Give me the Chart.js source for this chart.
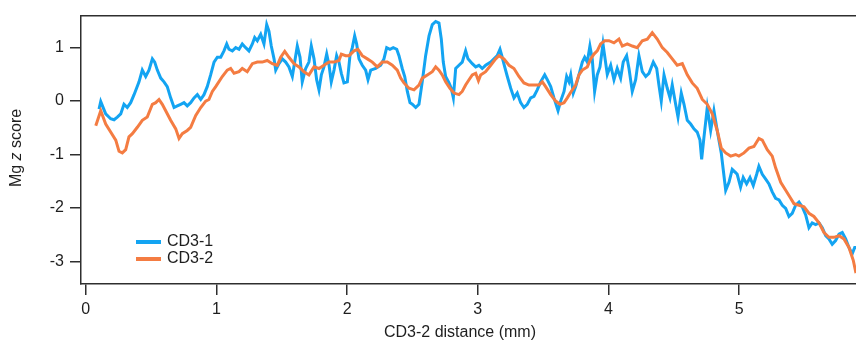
<!DOCTYPE html>
<html>
<head>
<meta charset="utf-8">
<script src="https://cdn.jsdelivr.net/npm/chart.js@4.4.0/dist/chart.umd.min.js"></script>
<style>
  html, body { margin: 0; padding: 0; background: #fff; }
  canvas { display: block; }
</style>
</head>
<body>
<canvas id="myChart" width="856" height="347"></canvas>
<script>
// distance along CD3-2 (mm) and Mg z score
const cd31X = [
  0.102, 0.115, 0.153, 0.191, 0.217, 0.242, 0.268, 0.293, 0.318, 0.344, 0.370, 0.408, 0.433, 0.459, 0.484, 0.510, 0.528, 0.548, 0.574, 0.599,
  0.624, 0.650, 0.676, 0.701, 0.727, 0.752, 0.777, 0.803, 0.829, 0.854, 0.880, 0.905, 0.930, 0.956, 0.982,
  1.007, 1.033, 1.058, 1.079, 1.096, 1.122, 1.148, 1.173, 1.198, 1.224, 1.249, 1.275, 1.293, 1.313, 1.339, 1.364, 1.385, 1.402, 1.420, 1.441,
  1.454, 1.479, 1.504, 1.530, 1.555, 1.581, 1.599, 1.619, 1.640, 1.657, 1.683, 1.708, 1.726, 1.747, 1.767, 1.785, 1.803, 1.823, 1.844, 1.862,
  1.879, 1.900, 1.920, 1.938, 1.956, 1.976,
  2.002, 2.022, 2.040, 2.058, 2.073, 2.091, 2.116, 2.142, 2.160, 2.181, 2.219, 2.257, 2.282, 2.303, 2.328, 2.353, 2.380, 2.397, 2.422, 2.441,
  2.461, 2.481, 2.499, 2.525, 2.550, 2.575, 2.601, 2.627, 2.652, 2.678, 2.703, 2.721, 2.736, 2.754, 2.780, 2.797, 2.813, 2.831, 2.856, 2.881,
  2.907, 2.925, 2.958, 2.984,
  3.009, 3.034, 3.060, 3.099, 3.124, 3.149, 3.170, 3.187, 3.206, 3.226, 3.252, 3.277, 3.302, 3.328, 3.353, 3.379, 3.405, 3.430, 3.455, 3.481,
  3.512, 3.532, 3.558, 3.583, 3.614, 3.634, 3.660, 3.680, 3.698, 3.711, 3.731, 3.749, 3.774, 3.800, 3.818, 3.838, 3.858, 3.876, 3.894, 3.914,
  3.935, 3.958, 3.991,
  4.017, 4.042, 4.067, 4.093, 4.113, 4.139, 4.157, 4.182, 4.208, 4.233, 4.259, 4.285, 4.310, 4.343, 4.369, 4.386, 4.404, 4.425, 4.450, 4.471,
  4.488, 4.514, 4.532, 4.557, 4.578, 4.603, 4.629, 4.654, 4.679, 4.700, 4.713, 4.731, 4.756, 4.782, 4.807, 4.832, 4.863, 4.878, 4.897, 4.922,
  4.947, 4.973,
  4.985, 5.011, 5.031, 5.057, 5.083, 5.108, 5.134, 5.151, 5.177, 5.203, 5.228, 5.253, 5.279, 5.305, 5.330, 5.356, 5.381, 5.406, 5.432, 5.458,
  5.483, 5.509, 5.534, 5.559, 5.585, 5.611, 5.636, 5.662, 5.687, 5.712, 5.738, 5.764, 5.789, 5.815, 5.840, 5.865, 5.884, 5.901
];
const cd31Y = [
  -0.15, -0.01, -0.24, -0.33, -0.35, -0.30, -0.24, -0.06, -0.12, -0.03, 0.12, 0.36, 0.58, 0.46, 0.58, 0.79, 0.73, 0.58, 0.43, 0.36,
  0.27, 0.06, -0.12, -0.09, -0.06, -0.03, -0.09, -0.03, 0.06, 0.12, 0.03, 0.12, 0.27, 0.49, 0.73,
  0.82, 0.82, 0.94, 1.07, 0.97, 0.94, 1.00, 0.97, 1.07, 1.00, 0.94, 1.07, 1.19, 1.13, 1.25, 1.07, 1.43, 1.31, 1.03, 0.79,
  0.58, 0.70, 0.79, 0.73, 0.64, 0.46, 0.73, 1.03, 0.82, 0.36, 0.61, 0.73, 1.03, 0.79, 0.40, 0.21, 0.49, 0.64, 0.88, 0.67,
  0.36, 0.58, 0.85, 0.73, 0.52, 0.34,
  0.36, 0.85, 1.00, 1.22, 1.07, 0.79, 0.67, 0.58, 0.40, 0.58, 0.61, 0.67, 0.79, 1.00, 0.97, 1.00, 0.97, 0.85, 0.61, 0.46,
  0.18, -0.03, -0.06, -0.12, -0.06, 0.36, 0.85, 1.22, 1.43, 1.49, 1.46, 1.16, 0.73, 0.46, 0.34, 0.24, 0.06, 0.61, 0.67, 0.73,
  0.94, 0.79, 0.70, 0.64,
  0.67, 0.61, 0.67, 0.73, 0.79, 0.85, 0.97, 0.82, 0.64, 0.46, 0.24, 0.06, 0.15, -0.03, -0.12, -0.06, 0.06, 0.09, 0.21, 0.36,
  0.49, 0.40, 0.27, 0.06, -0.18, 0.00, 0.18, 0.46, 0.36, 0.49, 0.15, 0.27, 0.49, 0.73, 0.82, 0.73, 1.03, 0.79, 0.18, 0.49,
  0.64, 1.07, 0.50,
  0.67, 0.40, 0.61, 0.43, 0.73, 0.85, 0.61, 0.18, 0.40, 0.85, 0.55, 0.46, 0.52, 0.73, 0.61, 0.30, 0.00, 0.49, 0.24, 0.06,
  0.30, -0.06, -0.30, 0.15, -0.06, -0.36, -0.43, -0.52, -0.58, -0.73, -1.09, -0.67, -0.12, -0.55, -0.18, -0.55, -0.97, -1.28, -1.67, -1.52,
  -1.28, -1.34,
  -1.37, -1.61, -1.43, -1.55, -1.43, -1.58, -1.37, -1.22, -1.37, -1.46, -1.55, -1.70, -1.82, -1.85, -1.95, -2.01, -2.16, -2.10, -1.95, -1.89,
  -1.98, -2.13, -2.37, -2.28, -2.31, -2.28, -2.37, -2.52, -2.58, -2.68, -2.61, -2.49, -2.46, -2.58, -2.74, -2.86, -2.74, -2.74
];

const cd32X = [
  0.077, 0.115, 0.153, 0.191, 0.230, 0.255, 0.280, 0.306, 0.331, 0.357, 0.395, 0.433, 0.471, 0.510, 0.536, 0.561, 0.586, 0.612, 0.650, 0.689,
  0.714, 0.739, 0.777, 0.803, 0.842, 0.880, 0.918, 0.943, 0.969, 0.995,
  1.045, 1.083, 1.109, 1.135, 1.173, 1.198, 1.236, 1.275, 1.313, 1.351, 1.389, 1.428, 1.466, 1.492, 1.523, 1.555, 1.594, 1.632, 1.670, 1.708,
  1.747, 1.785, 1.823, 1.862, 1.900, 1.938, 1.956, 1.989,
  2.015, 2.053, 2.083, 2.116, 2.155, 2.193, 2.231, 2.269, 2.308, 2.346, 2.384, 2.410, 2.435, 2.474, 2.512, 2.550, 2.575, 2.614, 2.652, 2.678,
  2.703, 2.728, 2.754, 2.787, 2.818, 2.856, 2.881, 2.907, 2.933, 2.958, 2.984,
  3.005, 3.022, 3.060, 3.099, 3.137, 3.162, 3.200, 3.239, 3.277, 3.315, 3.353, 3.392, 3.430, 3.468, 3.494, 3.519, 3.558, 3.596, 3.629, 3.660,
  3.685, 3.715, 3.749, 3.774, 3.800, 3.838, 3.864, 3.889, 3.914, 3.940, 3.971,
  4.004, 4.042, 4.080, 4.106, 4.144, 4.182, 4.220, 4.259, 4.297, 4.335, 4.373, 4.412, 4.450, 4.488, 4.526, 4.565, 4.603, 4.641, 4.679, 4.718,
  4.756, 4.794, 4.832, 4.863, 4.897, 4.935, 4.973,
  4.998, 5.037, 5.075, 5.113, 5.151, 5.177, 5.215, 5.253, 5.279, 5.318, 5.356, 5.394, 5.419, 5.458, 5.496, 5.534, 5.572, 5.611, 5.649, 5.687,
  5.725, 5.764, 5.802, 5.840, 5.873, 5.894
];
const cd32Y = [
  -0.46, -0.18, -0.43, -0.58, -0.73, -0.94, -0.97, -0.91, -0.67, -0.61, -0.49, -0.36, -0.30, -0.06, -0.03, 0.03, -0.06, -0.18, -0.36, -0.52,
  -0.70, -0.61, -0.55, -0.49, -0.27, -0.12, 0.00, 0.03, 0.18, 0.27,
  0.46, 0.58, 0.61, 0.52, 0.55, 0.61, 0.55, 0.70, 0.73, 0.73, 0.76, 0.70, 0.67, 0.82, 0.93, 0.82, 0.70, 0.64, 0.55, 0.49,
  0.64, 0.61, 0.67, 0.73, 0.73, 0.76, 0.88, 0.85,
  0.85, 0.94, 0.97, 0.85, 0.79, 0.73, 0.64, 0.73, 0.73, 0.67, 0.58, 0.43, 0.34, 0.24, 0.21, 0.30, 0.43, 0.49, 0.55, 0.64,
  0.58, 0.49, 0.36, 0.24, 0.15, 0.12, 0.18, 0.30, 0.40, 0.49, 0.52,
  0.38, 0.49, 0.55, 0.67, 0.79, 0.85, 0.79, 0.67, 0.61, 0.46, 0.34, 0.30, 0.30, 0.30, 0.36, 0.27, 0.12, 0.00, -0.06, -0.03,
  0.06, 0.18, 0.30, 0.49, 0.58, 0.64, 0.79, 0.88, 0.94, 1.07, 1.13,
  1.13, 1.09, 1.16, 1.03, 1.07, 1.03, 1.00, 1.13, 1.16, 1.28, 1.16, 1.00, 0.91, 0.79, 0.67, 0.70, 0.49, 0.34, 0.24, 0.03,
  -0.06, -0.24, -0.55, -0.88, -0.97, -1.03, -1.00,
  -1.03, -0.97, -0.88, -0.85, -0.70, -0.73, -0.91, -1.03, -1.25, -1.52, -1.67, -1.82, -1.92, -1.95, -1.98, -2.10, -2.16, -2.28, -2.46, -2.55,
  -2.55, -2.52, -2.58, -2.74, -2.98, -3.22
];

const seriesNames = ["CD3-1", "CD3-2"];
const xTicks = [0, 1, 2, 3, 4, 5];
const yTicks = [-3, -2, -1, 0, 1];
const xTitle = "CD3-2 distance (mm)";

const blue = "#13a4f2";
const orange = "#f47c42";
const axisColor = "#2e2e2e";
const fontFamily = "'Liberation Sans', Arial, Helvetica, sans-serif";

const toPoints = (xs, ys) => {
  if (xs.length !== ys.length) console.log("length mismatch", xs.length, ys.length);
  return xs.map((x, i) => ({ x: x, y: ys[i] }));
};

// legend and axis titles drawn by hand (italic z in the y title)
const decorations = {
  id: "decorations",
  afterDatasetsDraw(chart) {
    const ctx = chart.ctx;
    ctx.save();
    ctx.fillStyle = "#1e1e1e";
    ctx.textBaseline = "middle";

    // legend
    chart.data.datasets.forEach((ds, i) => {
      const y = 242 + i * 17;
      ctx.strokeStyle = ds.borderColor;
      ctx.lineWidth = 4;
      ctx.beginPath();
      ctx.moveTo(136, y);
      ctx.lineTo(161, y);
      ctx.stroke();
      ctx.font = "16px " + fontFamily;
      ctx.textAlign = "left";
      ctx.fillText(ds.label, 167, y);
    });

    // x title
    ctx.font = "16px " + fontFamily;
    ctx.textAlign = "center";
    ctx.fillText(xTitle, 460, 333);

    // y title: "Mg z score"
    const parts = [
      ["Mg ", "16px " + fontFamily],
      ["z", "italic 16px " + fontFamily],
      [" score", "16px " + fontFamily],
    ];
    let total = 0;
    parts.forEach((p) => {
      ctx.font = p[1];
      total += ctx.measureText(p[0]).width;
    });
    ctx.translate(17, 148);
    ctx.rotate(-Math.PI / 2);
    ctx.textAlign = "left";
    let cx = -total / 2;
    parts.forEach((p) => {
      ctx.font = p[1];
      ctx.fillText(p[0], cx, 0);
      cx += ctx.measureText(p[0]).width;
    });
    ctx.restore();
  },
};

const ctx = document.getElementById("myChart").getContext("2d");
new Chart(ctx, {
  type: "line",
  data: {
    datasets: [
      {
        label: seriesNames[0],
        data: toPoints(cd31X, cd31Y),
        borderColor: blue,
        backgroundColor: blue,
        borderWidth: 3,
        pointRadius: 0,
        tension: 0,
        order: 2,
      },
      {
        label: seriesNames[1],
        data: toPoints(cd32X, cd32Y),
        borderColor: orange,
        backgroundColor: orange,
        borderWidth: 3,
        pointRadius: 0,
        tension: 0,
        order: 1,
      },
    ],
  },
  options: {
    responsive: false,
    animation: false,
    devicePixelRatio: 1,
    layout: { padding: { top: 9, left: 0, right: 0, bottom: 0 } },
    plugins: {
      legend: { display: false },
      tooltip: { enabled: false },
    },
    scales: {
      x: {
        type: "linear",
        position: "bottom",
        min: -0.036,
        max: 5.894,
        afterFit: (s) => { s.height = 63; },
        afterBuildTicks: (s) => { s.ticks = xTicks.map((v) => ({ value: v })); },
        ticks: {
          font: { size: 16, family: fontFamily },
          color: "#1e1e1e",
          padding: 5,
          maxRotation: 0,
        },
        grid: {
          display: true,
          drawOnChartArea: false,
          drawTicks: true,
          tickLength: 11,
          color: axisColor,
          lineWidth: 1.5,
        },
        border: { display: true, color: axisColor, width: 1.5 },
      },
      xTop: {
        type: "linear",
        position: "top",
        min: -0.036,
        max: 5.894,
        afterFit: (s) => { s.height = 0; },
        ticks: { display: false },
        grid: { display: false },
        border: { display: true, color: axisColor, width: 1.5 },
      },
      y: {
        type: "linear",
        position: "left",
        min: -3.424,
        max: 1.6,
        afterFit: (s) => { s.width = 81; },
        afterBuildTicks: (s) => { s.ticks = yTicks.map((v) => ({ value: v })); },
        ticks: {
          font: { size: 16, family: fontFamily },
          color: "#1e1e1e",
          padding: 6,
        },
        grid: {
          display: true,
          drawOnChartArea: false,
          drawTicks: true,
          tickLength: 11,
          color: axisColor,
          lineWidth: 1.5,
        },
        border: { display: true, color: axisColor, width: 1.5 },
      },
    },
  },
  plugins: [decorations],
});
</script>
</body>
</html>
